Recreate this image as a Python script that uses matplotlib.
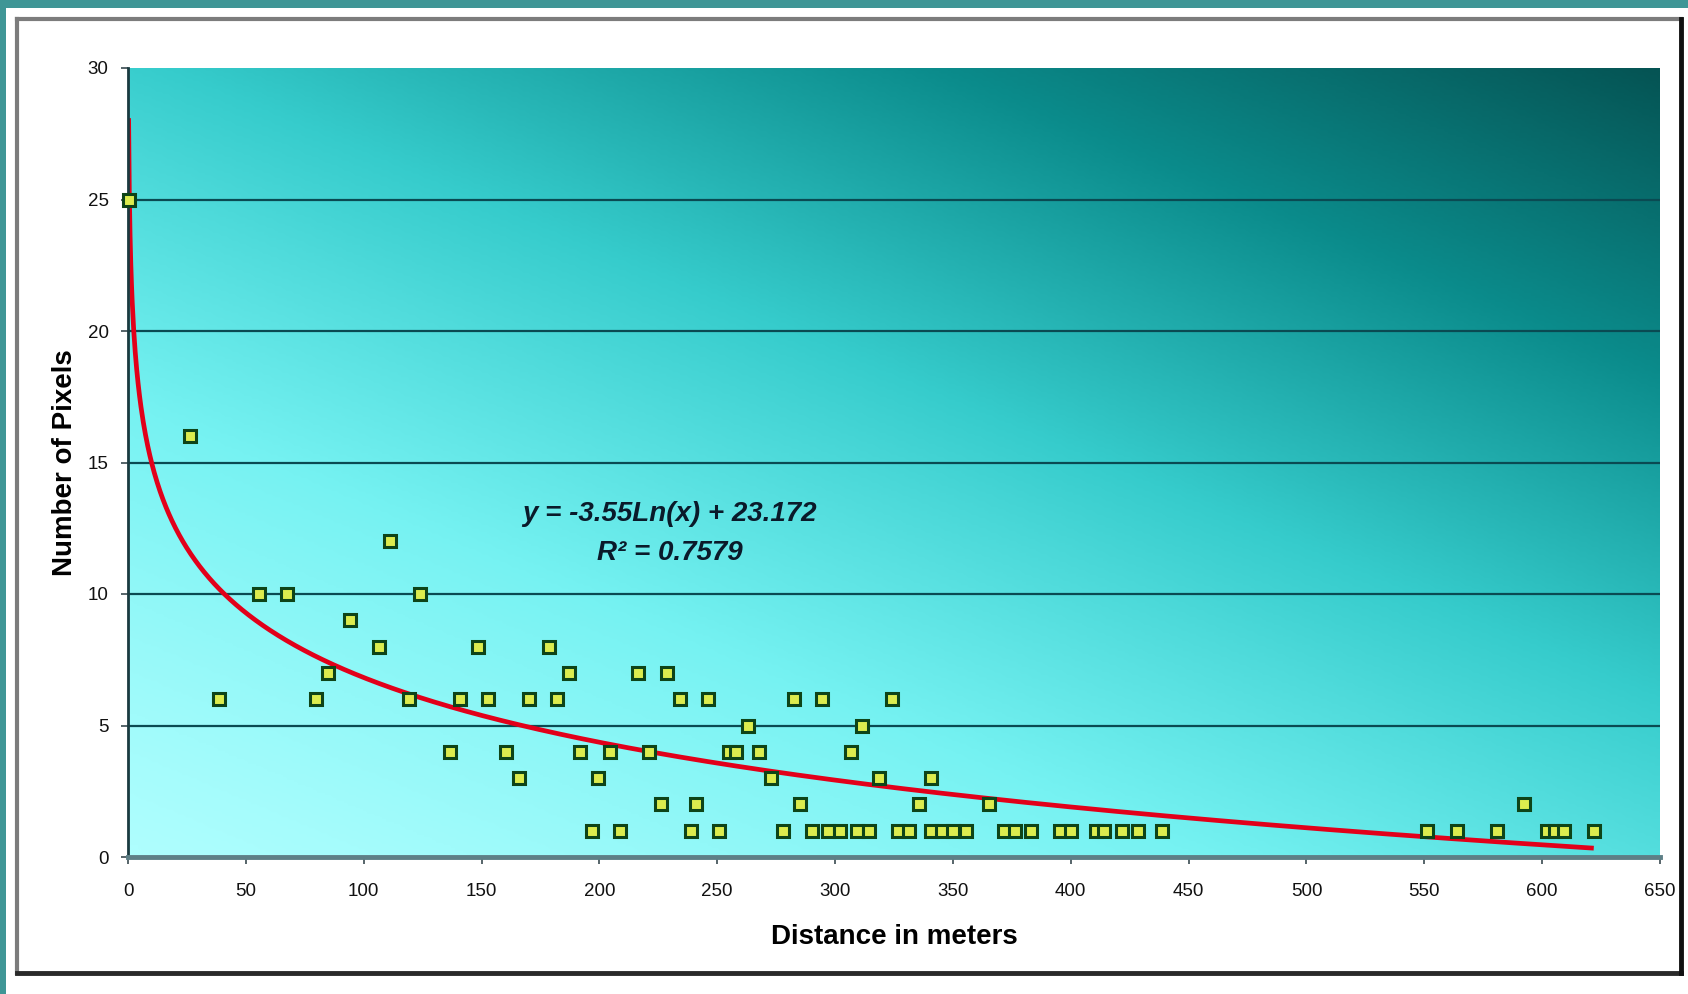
import numpy as np
import matplotlib
matplotlib.use("Agg")
import matplotlib.pyplot as plt
from matplotlib.colors import LinearSegmentedColormap
from matplotlib.patches import Rectangle
from matplotlib.lines import Line2D

plt.rcParams['font.family'] = ['Liberation Sans', 'DejaVu Sans']

# ---- data ----
distance_m = [0.25, 26.2, 38.5, 55.5, 67.4, 79.7, 84.7, 94.4, 106.7, 111.3,
              119.1, 124.1, 136.5, 141.0, 148.4, 152.9, 160.3, 165.8, 170.3, 178.5,
              182.2, 187.3, 191.8, 196.9, 199.6, 204.5, 208.8, 216.5, 221.2, 226.0,
              228.7, 234.0, 238.7, 240.8, 246.0, 250.8, 255.0, 258.0, 263.0, 267.7,
              272.8, 277.9, 282.4, 285.0, 290.0, 294.6, 296.8, 302.0, 306.8, 309.5,
              311.6, 314.2, 318.8, 324.0, 326.5, 331.2, 335.8, 340.8, 340.5, 345.2,
              350.1, 355.5, 365.5, 371.6, 376.4, 383.0, 395.4, 399.9, 410.5, 414.0,
              421.8, 428.7, 438.8, 551.0, 563.8, 580.8, 592.1, 602.0, 605.6, 609.3,
              621.9]
pixels = [25, 16, 6, 10, 10, 6, 7, 9, 8, 12,
          6, 10, 4, 6, 8, 6, 4, 3, 6, 8,
          6, 7, 4, 1, 3, 4, 1, 7, 4, 2,
          7, 6, 1, 2, 6, 1, 4, 4, 5, 4,
          3, 1, 6, 2, 1, 6, 1, 1, 4, 1,
          5, 1, 3, 6, 1, 1, 2, 3, 1, 1,
          1, 1, 2, 1, 1, 1, 1, 1, 1, 1,
          1, 1, 1, 1, 1, 1, 2, 1, 1, 1,
          1]
trend_slope = -3.55
trend_intercept = 23.172
r_squared = 0.7579
x_ticks = list(range(0, 651, 50))
y_ticks = list(range(0, 31, 5))

# ---- figure ----
W, H = 1688, 994
fig = plt.figure(figsize=(W / 100, H / 100), dpi=100)
fig.patch.set_facecolor('white')

def fx(px):
    return px / W

def fy(py):
    return (H - py) / H

# slide background strips (top and left)
fig.patches.append(Rectangle((0, fy(8)), 1, 8 / H, transform=fig.transFigure,
                             facecolor='#3f9696', edgecolor='none', zorder=-10))
fig.patches.append(Rectangle((0, 0), 6 / W, 1, transform=fig.transFigure,
                             facecolor='#3f9696', edgecolor='none', zorder=-10))
# chart frame: light top/left, dark bottom/right
fig.lines.append(Line2D([fx(17), fx(1681)], [fy(19), fy(19)], transform=fig.transFigure,
                        color='#7c7c7c', lw=3))
fig.lines.append(Line2D([fx(17), fx(17)], [fy(19), fy(973)], transform=fig.transFigure,
                        color='#7c7c7c', lw=3))
fig.lines.append(Line2D([fx(17), fx(1681)], [fy(973), fy(973)], transform=fig.transFigure,
                        color='#2a2a2a', lw=3.5))
fig.lines.append(Line2D([fx(1681), fx(1681)], [fy(19), fy(973)], transform=fig.transFigure,
                        color='#111111', lw=3.5))

left, right, top, bottom = 128, 1660, 68, 857
ax = fig.add_axes([left / W, (H - bottom) / H, (right - left) / W, (bottom - top) / H])

# gradient background of the plot area
cmap = LinearSegmentedColormap.from_list('teal', [
    (0.0, '#aefefe'), (0.25, '#76f2f2'), (0.5, '#36cccc'),
    (0.75, '#0b8c8c'), (1.0, '#055454')])
u = np.linspace(0, 1, 400)
v = np.linspace(1, 0, 300)
U, V = np.meshgrid(u, v)
T = (0.45 * U + 0.55 * V) ** 1.2
ax.imshow(T, cmap=cmap, vmin=0, vmax=1, extent=[0, 1, 0, 1],
          transform=ax.transAxes, aspect='auto', zorder=0, interpolation='bilinear')

for yv in y_ticks[1:-1]:
    ax.axhline(yv, color='#0a4a52', lw=1.6, zorder=1)

# trend line
xt = np.linspace(min(distance_m), max(distance_m), 2000)
ax.plot(xt, trend_slope * np.log(xt) + trend_intercept, color='#e2001a', lw=3.4,
        zorder=2, solid_capstyle='butt')

# data points
ax.plot(distance_m, pixels, linestyle='none', marker='s', markersize=9,
        markerfacecolor='#dcec4e', markeredgecolor='#0e4418', markeredgewidth=2.2,
        zorder=3, clip_on=False)

ax.set_xlim(0, 650)
ax.set_ylim(0, 30)
ax.set_xticks(x_ticks)
ax.set_yticks(y_ticks)
ax.tick_params(axis='both', labelsize=13.5, length=5, width=1.2, color='#3a4a50',
               direction='out', labelcolor='#111111')
ax.tick_params(axis='x', pad=14)
ax.tick_params(axis='y', pad=9)
for s in ['top', 'right']:
    ax.spines[s].set_visible(False)
ax.spines['left'].set_color('#1a3a40')
ax.spines['left'].set_linewidth(2)
ax.spines['bottom'].set_color('#5d7f86')
ax.spines['bottom'].set_linewidth(3.5)

ax.set_xlabel('Distance in meters', fontsize=20, fontweight='bold', labelpad=17)
ax.set_ylabel('Number of Pixels', fontsize=20, fontweight='bold', labelpad=7)

ax.text(229.8, 13.06, f'y = {trend_slope}Ln(x) + {trend_intercept}', fontsize=20,
        fontweight='bold', fontstyle='italic', color='#0a1a2a', ha='center', va='center',
        zorder=4)
ax.text(229.8, 11.55, f'R² = {r_squared}', fontsize=20, fontweight='bold',
        fontstyle='italic', color='#0a1a2a', ha='center', va='center', zorder=4)

fig.savefig('out.png', dpi=100)
